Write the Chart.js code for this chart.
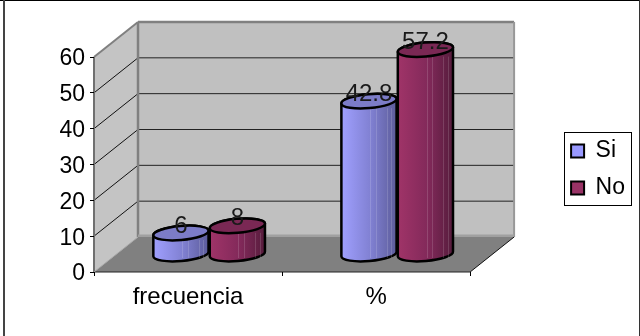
<!DOCTYPE html>
<html>
<head>
<meta charset="utf-8">
<script src="https://cdn.jsdelivr.net/npm/chart.js@4"></script>
<style>
  html, body { margin: 0; padding: 0; background: #fff; }
  canvas { display: block; }
</style>
</head>
<body>
<canvas id="encuestaChart" width="640" height="336"></canvas>
<script>
var categories = ['frecuencia', '%'];
var seriesSi = [6, 42.8];
var seriesNo = [8, 57.2];
var yTicks = [0, 10, 20, 30, 40, 50, 60];

var FONT = '"Liberation Sans", Arial, sans-serif';
// offset of the back wall from the front plane
var DEPTH_X = 44;
var DEPTH_Y = 35;

function polygon(ctx, pts, fill) {
    ctx.beginPath();
    pts.forEach(function (p, i) {
        if (i === 0) ctx.moveTo(p[0], p[1]); else ctx.lineTo(p[0], p[1]);
    });
    ctx.closePath();
    ctx.fillStyle = fill;
    ctx.fill();
}

function line(ctx, x1, y1, x2, y2, color, width) {
    ctx.beginPath();
    ctx.moveTo(x1, y1);
    ctx.lineTo(x2, y2);
    ctx.strokeStyle = color;
    ctx.lineWidth = width;
    ctx.stroke();
}

// Walls, floor and gridlines of the 3D box, placed from the scales
var boxPlugin = {
    id: 'box3d',
    beforeDraw: function (chart) {
        var ctx = chart.ctx, y = chart.scales.y, a = chart.chartArea;
        var l = a.left, r = a.right, t = a.top, b = a.bottom;
        ctx.save();
        ctx.fillStyle = '#fff';
        ctx.fillRect(0, 0, chart.width, chart.height);

        polygon(ctx, [[l + DEPTH_X, t - DEPTH_Y], [r + DEPTH_X, t - DEPTH_Y], [r + DEPTH_X, b - DEPTH_Y], [l + DEPTH_X, b - DEPTH_Y]], '#c0c0c0');
        polygon(ctx, [[l, t], [l + DEPTH_X, t - DEPTH_Y], [l + DEPTH_X, b - DEPTH_Y], [l, b]], '#c4c4c4');

        yTicks.forEach(function (v) {
            if (v === 0 || v === 60) return;
            var py = y.getPixelForValue(v);
            line(ctx, l, py, l + DEPTH_X, py - DEPTH_Y, '#111', 1);
            line(ctx, l + DEPTH_X, py - DEPTH_Y, r + DEPTH_X, py - DEPTH_Y, '#222', 1);
        });

        // wall edges
        line(ctx, l + DEPTH_X, t - DEPTH_Y, r + DEPTH_X, t - DEPTH_Y, '#808080', 2.5);
        line(ctx, l + DEPTH_X, t - DEPTH_Y, l + DEPTH_X, b - DEPTH_Y, '#808080', 2.5);
        line(ctx, r + DEPTH_X, t - DEPTH_Y, r + DEPTH_X, b - DEPTH_Y, '#989898', 2);
        line(ctx, l, t, l + DEPTH_X, t - DEPTH_Y, '#808080', 2);
        line(ctx, l, t, l, b, '#707070', 2);
        line(ctx, l + DEPTH_X, b - DEPTH_Y - 1, r + DEPTH_X, b - DEPTH_Y - 1, '#a0a0a0', 3);

        polygon(ctx, [[l, b], [l + DEPTH_X, b - DEPTH_Y], [r + DEPTH_X, b - DEPTH_Y], [r, b]], '#808080');
        line(ctx, l, b, r, b, '#222', 1);
        line(ctx, r, b, r + DEPTH_X, b - DEPTH_Y, '#111', 1);
        line(ctx, l, b, l + DEPTH_X, b - DEPTH_Y, '#a8a8a8', 1);

        // frame of the whole chart
        line(ctx, 0, 0.5, chart.width, 0.5, '#000', 1);
        line(ctx, 4, 0, 4, chart.height, '#444', 2);
        line(ctx, 639.5, 0, 639.5, chart.height, '#333', 1);
        ctx.restore();
    },
    afterDraw: function (chart) {
        var ctx = chart.ctx;
        ctx.save();
        ctx.strokeStyle = '#000';
        ctx.lineWidth = 1;
        ctx.strokeRect(564.5, 132.5, 67, 73);
        ctx.restore();
    }
};

var cylinderShades = [
    { light: '#a0a0ff', mid: '#7f7fd0', dark: '#5c5c9a', top: '#7c7cc8' },
    { light: '#a03468', mid: '#82295a', dark: '#561c3c', top: '#7a2854' }
];
// faint banding on the shaded side of each cylinder
var streaks = [0.52, 0.62, 0.82, 0.9];

// Each bar element is redrawn as a cylinder standing mid-depth on the floor
var cylinderPlugin = {
    id: 'cylinders',
    beforeDatasetsDraw: function (chart) {
        var ctx = chart.ctx;
        var rot = -5 * Math.PI / 180;
        ctx.save();
        categories.forEach(function (cat, i) {
            chart.data.datasets.forEach(function (ds, d) {
                var bar = chart.getDatasetMeta(d).data[i].getProps(['x', 'y', 'base', 'width'], true);
                var cx = bar.x + DEPTH_X * 0.48;
                var yTop = bar.y - DEPTH_Y / 2;
                var yBase = bar.base - DEPTH_Y / 2;
                var rx = bar.width / 2 - 0.5;
                var ry = 7;
                var dx = rx * Math.cos(rot), dy = rx * Math.sin(rot);
                var shade = cylinderShades[d];

                var grad = ctx.createLinearGradient(cx - rx, 0, cx + rx, 0);
                grad.addColorStop(0, shade.light);
                grad.addColorStop(0.55, shade.mid);
                grad.addColorStop(1, shade.dark);

                ctx.beginPath();
                ctx.moveTo(cx - dx, yTop - dy);
                ctx.lineTo(cx - dx, yBase - dy);
                ctx.ellipse(cx, yBase, rx, ry, rot, Math.PI, 0, true);
                ctx.lineTo(cx + dx, yTop + dy);
                ctx.ellipse(cx, yTop, rx, ry, rot, 0, Math.PI, true);
                ctx.closePath();
                ctx.fillStyle = grad;
                ctx.fill();
                ctx.strokeStyle = '#000';
                ctx.lineWidth = 2.5;
                ctx.lineJoin = 'round';
                ctx.stroke();

                streaks.forEach(function (f) {
                    var sx = Math.round(cx - rx + f * 2 * rx) + 0.5;
                    line(ctx, sx, yTop + ry, sx, yBase + ry - 3, 'rgba(255,255,255,0.14)', 1);
                });

                ctx.beginPath();
                ctx.ellipse(cx, yTop, rx, ry, rot, 0, Math.PI * 2);
                ctx.fillStyle = shade.top;
                ctx.strokeStyle = '#000';
                ctx.lineWidth = 2.5;
                ctx.fill();
                ctx.stroke();
            });
        });

        // value labels sit over the top of each cylinder
        ctx.font = '24px ' + FONT;
        ctx.fillStyle = '#1a1a1a';
        ctx.textAlign = 'center';
        ctx.textBaseline = 'middle';
        chart.data.datasets.forEach(function (ds, d) {
            ds.data.forEach(function (v, i) {
                var bar = chart.getDatasetMeta(d).data[i].getProps(['x', 'y'], true);
                ctx.fillText(String(v), bar.x + DEPTH_X * 0.48, bar.y - DEPTH_Y / 2 - 7);
            });
        });
        ctx.restore();
        return false;
    }
};

var ctx = document.getElementById('encuestaChart').getContext('2d');
var encuestaChart = new Chart(ctx, {
    type: 'bar',
    data: {
        labels: categories,
        datasets: [
            { label: 'Si', data: seriesSi, backgroundColor: '#9999ff', borderColor: '#000', borderWidth: 2 },
            { label: 'No', data: seriesNo, backgroundColor: '#993366', borderColor: '#000', borderWidth: 2 }
        ]
    },
    options: {
        responsive: false,
        animation: false,
        layout: { padding: { top: 3, right: 5, bottom: 0, left: 0 } },
        datasets: { bar: { categoryPercentage: 0.6, barPercentage: 1 } },
        scales: {
            x: {
                grid: { drawOnChartArea: false, drawTicks: true, tickLength: 4, color: '#000', offset: true },
                border: { display: false },
                ticks: { color: '#000', font: { family: FONT, size: 24 }, padding: 7, maxRotation: 0, autoSkip: false },
                afterFit: function (s) { s.height = 64; }
            },
            y: {
                min: 0,
                max: 60,
                afterBuildTicks: function (s) { s.ticks = yTicks.map(function (v) { return { value: v }; }); },
                grid: { drawOnChartArea: false, drawTicks: true, tickLength: 4, color: '#000' },
                border: { display: false },
                ticks: { color: '#000', font: { family: FONT, size: 23 }, padding: 5, labelOffset: 2 },
                afterFit: function (s) { s.width = 94; }
            },
            // empty axes that keep room above the plot and beside the legend for the box depth
            depth: {
                position: 'right',
                display: true,
                grid: { display: false },
                border: { display: false },
                ticks: { display: false },
                afterFit: function (s) { s.width = 87; }
            },
            headroom: {
                position: 'top',
                display: true,
                grid: { display: false },
                border: { display: false },
                ticks: { display: false },
                afterFit: function (s) { s.height = 54; }
            }
        },
        plugins: {
            legend: {
                position: 'right',
                labels: {
                    color: '#000',
                    font: { family: FONT, size: 23 },
                    boxWidth: 13,
                    boxHeight: 13,
                    padding: 14
                }
            },
            tooltip: { enabled: false }
        }
    },
    plugins: [boxPlugin, cylinderPlugin]
});
</script>
</body>
</html>
